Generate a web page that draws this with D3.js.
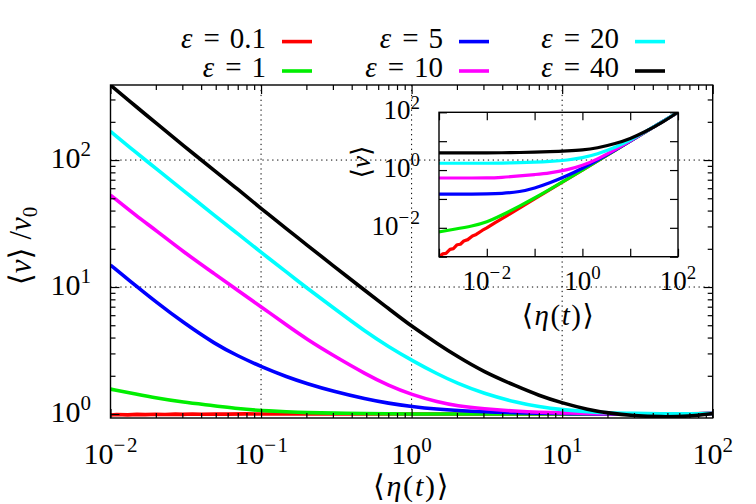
<!DOCTYPE html>
<meta charset="utf-8">
<style>
body { margin: 0; background: #fff; }
svg { font-family: "Liberation Serif", "DejaVu Serif", serif; }
.curve { fill: none; stroke-linejoin: round; stroke-linecap: butt; }
.grid { stroke: #000; stroke-width: 1; stroke-dasharray: 1.3,3.6; }
.frame { fill: none; stroke: #000; stroke-width: 1.4; }
.tk line { stroke: #000; stroke-width: 1.2; }
.tk path { display: none; }
</style>
<body>
<div id="main"></div>
<script src="https://d3js.org/d3.v7.min.js"></script>
<script>

// legend entries, one per epsilon
var epsLabels = ["0.1", "1", "5", "10", "20", "40"];
var epsColors = ["#ff0000", "#00ee00", "#0000ff", "#ff00ff", "#00ffff", "#000000"];

// main plot: <v>/v0 against <eta(t)>
var eta = [0.01, 0.015, 0.02, 0.03, 0.05, 0.07, 0.1, 0.15, 0.2, 0.3, 0.5, 0.7, 1,
           1.5, 2, 3, 5, 7, 10, 15, 20, 30, 45, 70, 100];
var etaNoisy = [0.01, 0.011, 0.013, 0.015, 0.017, 0.02, 0.023, 0.027, 0.03, 0.035, 0.04, 0.05,
                0.06, 0.08, 0.1, 0.15, 0.2, 0.3, 0.5, 1, 2, 5, 10, 20, 50, 100];
var ratioEps01 = [0.982, 0.99, 0.984, 0.993, 0.988, 0.996, 0.99, 0.998, 0.993, 1.0, 0.996, 1.0,
                  0.997, 1.002, 1.0, 1.0, 1.0, 1.0, 1.0, 1.0, 1.0, 1.0, 1.0, 1.0, 1.0, 1.01];
var ratioEps1  = [1.57, 1.43, 1.34, 1.24, 1.16, 1.1, 1.065, 1.04, 1.025, 1.015, 1.01, 1.005, 1.0,
                  1.0, 1.0, 1.0, 1.0, 1.0, 1.0, 1.0, 1.0, 1.0, 1.0, 1.0, 1.01];
var ratioEps5  = [14.9, 10.06, 7.65, 5.31, 3.53, 2.87, 2.36, 1.95, 1.74, 1.51, 1.31, 1.215, 1.145,
                  1.09, 1.065, 1.04, 1.022, 1.014, 1.008, 1.004, 1.0, 1.0, 1.0, 1.0, 1.01];
var ratioEps10 = [53, 36, 28, 19.2, 12.5, 9.4, 7.0, 4.95, 3.9, 2.9, 2.05, 1.68, 1.42,
                  1.24, 1.16, 1.1, 1.05, 1.03, 1.02, 1.01, 1.005, 1.0, 1.0, 1.0, 1.01];
var ratioEps20 = [168, 113, 86, 58.5, 36, 26.3, 18.8, 12.9, 9.9, 6.9, 4.4, 3.4, 2.65,
                  2.05, 1.75, 1.45, 1.23, 1.14, 1.08, 1.04, 1.02, 1.01, 1.005, 1.0, 1.01];
var ratioEps40 = [389, 260, 196, 132, 81, 59, 41.5, 28.3, 21.6, 14.8, 9.2, 6.8, 4.9,
                  3.55, 2.85, 2.15, 1.65, 1.4, 1.22, 1.08, 1.02, 0.97, 0.947, 0.958, 1.01];

// inset: <v> against <eta(t)>
var etaIn = [0.001, 0.002, 0.005, 0.01, 0.02, 0.05, 0.1, 0.2, 0.5, 1, 2, 5, 10, 20, 50, 100];
var etaInNoisy = [0.001, 0.0012, 0.0014, 0.0017, 0.002, 0.0024, 0.0028, 0.0033, 0.004, 0.005,
                  0.006, 0.008, 0.01, 0.015, 0.03, 0.1, 0.3, 1, 3, 10, 30, 100];
var vEps01 = [0.001, 0.00125, 0.0013, 0.0018, 0.0019, 0.0026, 0.0027, 0.0035, 0.0039, 0.0052,
              0.0059, 0.0081, 0.0099, 0.0152, 0.03, 0.1, 0.3, 1, 3, 10, 30, 100];
var vEps1  = [0.0072, 0.0088, 0.0115, 0.0157, 0.0268, 0.058, 0.107, 0.205, 0.505, 1.0,
              2.0, 5.0, 10, 20, 50, 100];
var vEps5  = [0.146, 0.146, 0.147, 0.149, 0.153, 0.177, 0.236, 0.348, 0.655, 1.145,
              2.13, 5.1, 10.1, 20, 50, 100];
var vEps10 = [0.53, 0.53, 0.53, 0.53, 0.555, 0.625, 0.70, 0.78, 1.03, 1.42,
              2.32, 5.25, 10.2, 20.1, 50, 100];
var vEps20 = [1.72, 1.72, 1.72, 1.72, 1.74, 1.8, 1.88, 1.98, 2.2, 2.65,
              3.5, 6.15, 10.8, 20.4, 50.2, 100];
var vEps40 = [3.95, 3.95, 3.95, 3.95, 3.96, 4.05, 4.15, 4.32, 4.6, 4.9,
              5.7, 8.25, 12.2, 20.4, 47.4, 101];

var mainSeries = [
  {x: etaNoisy, y: ratioEps01, noisy: true}, {x: eta, y: ratioEps1}, {x: eta, y: ratioEps5},
  {x: eta, y: ratioEps10}, {x: eta, y: ratioEps20}, {x: eta, y: ratioEps40}
];
var insetSeries = [
  {x: etaInNoisy, y: vEps01, noisy: true}, {x: etaIn, y: vEps1}, {x: etaIn, y: vEps5},
  {x: etaIn, y: vEps10}, {x: etaIn, y: vEps20}, {x: etaIn, y: vEps40}
];

var W = 756, H = 504;
var box = {left: 110.5, right: 712.7, top: 85, bottom: 418};
var ibox = {left: 439, right: 678, top: 112.3, bottom: 256.7};

var x = d3.scaleLog().domain([0.01, 100]).range([box.left, box.right]);
var y = d3.scaleLog().domain([0.93, 390]).range([box.bottom, box.top]);
var xi = d3.scaleLog().domain([1e-3, 1e2]).range([ibox.left, ibox.right]);
var yi = d3.scaleLog().domain([1e-3, 1e2]).range([ibox.bottom, ibox.top]);

var svg = d3.select("#main").append("svg")
    .attr("width", W)
    .attr("height", H);

var defs = svg.append("defs");
defs.append("clipPath").attr("id", "clipMain").append("rect")
    .attr("x", box.left).attr("y", box.top)
    .attr("width", box.right - box.left).attr("height", box.bottom - box.top);
defs.append("clipPath").attr("id", "clipInset").append("rect")
    .attr("x", ibox.left).attr("y", ibox.top)
    .attr("width", ibox.right - ibox.left).attr("height", ibox.bottom - ibox.top);

var xMajor = [0.01, 0.1, 1, 10, 100];
var yMajor = [1, 10, 100];
var xMinor = x.ticks().filter(d => xMajor.indexOf(d) < 0);
var yMinor = y.ticks().filter(d => yMajor.indexOf(d) < 0 && d > 0.93 && d < 390);

// dotted grid
svg.append("g").selectAll("line").data(xMajor.slice(1, -1)).enter().append("line")
    .attr("class", "grid")
    .attr("x1", d => x(d)).attr("x2", d => x(d))
    .attr("y1", box.top).attr("y2", box.bottom);
svg.append("g").selectAll("line").data(yMajor).enter().append("line")
    .attr("class", "grid")
    .attr("x1", box.left).attr("x2", box.right)
    .attr("y1", d => y(d)).attr("y2", d => y(d));

// ticks on all four sides, pointing in
function ticks(g, xs, ys, vals, size, b) {
  g.append("g").attr("class", "tk").attr("transform", `translate(0,${b.bottom})`)
    .call(d3.axisBottom(xs).tickValues(vals.x).tickSize(-size).tickFormat(""));
  g.append("g").attr("class", "tk").attr("transform", `translate(0,${b.top})`)
    .call(d3.axisTop(xs).tickValues(vals.x).tickSize(-size).tickFormat(""));
  g.append("g").attr("class", "tk").attr("transform", `translate(${b.left},0)`)
    .call(d3.axisLeft(ys).tickValues(vals.y).tickSize(-size).tickFormat(""));
  g.append("g").attr("class", "tk").attr("transform", `translate(${b.right},0)`)
    .call(d3.axisRight(ys).tickValues(vals.y).tickSize(-size).tickFormat(""));
}

function powLabel(g, px, py, exp, size, anchor) {
  var t = g.append("text").attr("x", px).attr("y", py)
      .attr("text-anchor", anchor)
      .style("font-size", size + "px");
  t.append("tspan").text("10");
  var s = t.append("tspan").attr("dy", -size * 0.4)
      .style("font-size", (size * 0.7) + "px");
  if (exp < 0) {
    s.text("\u2212");
    t.append("tspan").attr("dx", 1.5).style("font-size", (size * 0.7) + "px").text(-exp);
  } else {
    s.text(exp);
  }
}

function mathText(g, str, size) {
  // str pieces: [text, italic?]
  var t = g.append("text").style("font-size", size + "px");
  str.forEach(function(p) {
    var sp = t.append("tspan").text(p[0]);
    if (p[1]) sp.style("font-style", "italic");
  });
  return t;
}

var line = function(xs, ys, noisy) {
  return d3.line()
    .x(d => xs(d[0]))
    .y(d => ys(d[1]))
    .curve(noisy ? d3.curveLinear : d3.curveBasis);
};

// main curves
var gm = svg.append("g").attr("clip-path", "url(#clipMain)");
mainSeries.forEach(function(s, i) {
  gm.append("path")
    .attr("class", "curve")
    .attr("d", line(x, y, s.noisy)(s.x.map((v, k) => [v, s.y[k]])))
    .style("stroke", epsColors[i])
    .style("stroke-width", 3.6);
});

ticks(svg, x, y, {x: xMajor, y: yMajor}, 9, box);
ticks(svg, x, y, {x: xMinor, y: yMinor}, 5, box);
svg.append("rect").attr("class", "frame")
    .attr("x", box.left).attr("y", box.top)
    .attr("width", box.right - box.left).attr("height", box.bottom - box.top);

xMajor.forEach(d => powLabel(svg, x(d), 464, Math.round(Math.log10(d)), 30, "middle"));
yMajor.forEach(d => powLabel(svg, 91, y(d) + 8, Math.round(Math.log10(d)), 30, "end"));

// axis titles
mathText(svg, [["\u27E8"], ["\u03B7", 1], ["("], ["t", 1], [")\u27E9"]], 30)
    .attr("x", (box.left + box.right) / 2).attr("y", 496)
    .attr("text-anchor", "middle")
    .style("letter-spacing", "1.8px");

var yt = mathText(svg, [["\u27E8"], ["v", 1], ["\u27E9 /"], ["v", 1]], 31)
    .attr("transform", "translate(31,246) rotate(-90)")
    .attr("text-anchor", "middle");
yt.append("tspan").attr("dy", 6).style("font-size", "21px").text("0");

// inset
var gi = svg.append("g").attr("clip-path", "url(#clipInset)");
insetSeries.forEach(function(s, i) {
  gi.append("path")
    .attr("class", "curve")
    .attr("d", line(xi, yi, s.noisy)(s.x.map((v, k) => [v, s.y[k]])))
    .style("stroke", epsColors[i])
    .style("stroke-width", 3.2);
});
var decades = [1e-3, 1e-2, 1e-1, 1, 10, 100];
ticks(svg, xi, yi, {x: decades, y: decades}, 8, ibox);
svg.append("rect").attr("class", "frame")
    .attr("x", ibox.left).attr("y", ibox.top)
    .attr("width", ibox.right - ibox.left).attr("height", ibox.bottom - ibox.top);

[1e-2, 1, 1e2].forEach(d => powLabel(svg, xi(d), 290, Math.round(Math.log10(d)), 27, "middle"));
[1e-2, 1, 1e2].forEach(d => powLabel(svg, 420, yi(d) + 7, Math.round(Math.log10(d)), 27, "end"));

mathText(svg, [["\u27E8"], ["\u03B7", 1], ["("], ["t", 1], [")\u27E9"]], 29)
    .attr("x", (ibox.left + ibox.right) / 2).attr("y", 325)
    .attr("text-anchor", "middle")
    .style("letter-spacing", "1.5px");

mathText(svg, [["\u27E8"], ["v", 1], ["\u27E9"]], 27)
    .attr("transform", "translate(370,162) rotate(-90)")
    .attr("text-anchor", "middle");

// legend, three columns of two rows
var legCols = [266, 443, 619];
var legRows = [47.6, 77];
epsLabels.forEach(function(lab, i) {
  var col = Math.floor(i / 2), row = i % 2;
  var t = svg.append("text").attr("x", legCols[col]).attr("y", legRows[row])
      .attr("text-anchor", "end").style("font-size", "29px");
  t.append("tspan").style("font-style", "italic").text("\u03B5");
  t.append("tspan").attr("dx", 11).text("=");
  t.append("tspan").attr("dx", 10).text(lab);
  svg.append("line")
    .attr("x1", legCols[col] + 16).attr("x2", legCols[col] + 46)
    .attr("y1", legRows[row] - 6).attr("y2", legRows[row] - 6)
    .style("stroke", epsColors[i])
    .style("stroke-width", 3.6);
});

</script>
</body>
